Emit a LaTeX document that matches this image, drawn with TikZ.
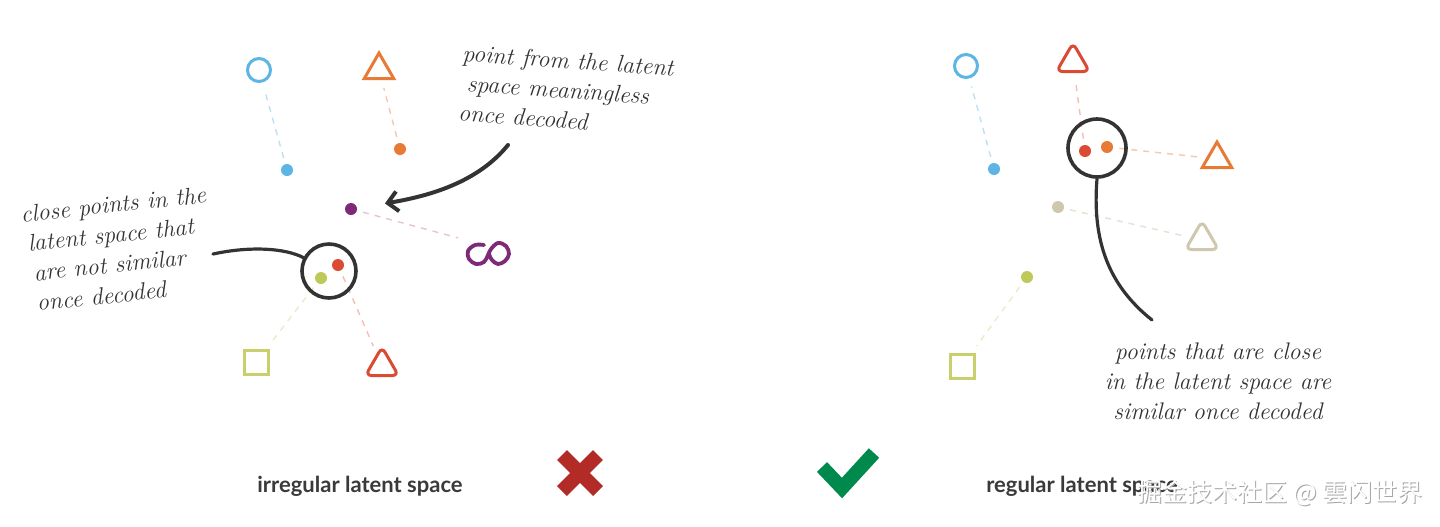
\documentclass[tikz,border=0pt]{standalone}
\usepackage{fontspec}
\setsansfont{Lato}
\newfontfamily\cjkfont{Noto Sans CJK SC}
\usetikzlibrary{shapes.geometric,arrows.meta}

\definecolor{ink}{HTML}{333333}
\definecolor{capgray}{HTML}{3A3A3A}
\definecolor{skyblue}{HTML}{5DB5E5}
\definecolor{tangerine}{HTML}{E77A35}
\definecolor{tomato}{HTML}{DB4A33}
\definecolor{plum}{HTML}{7F2A79}
\definecolor{olive}{HTML}{C9CF6A}
\definecolor{lime}{HTML}{BFC95A}
\definecolor{sand}{HTML}{CFC7AE}
\definecolor{blueDash}{HTML}{BFE0F2}
\definecolor{orangeDash}{HTML}{F4C8AE}
\definecolor{redDash}{HTML}{F3BFB7}
\definecolor{plumDash}{HTML}{E6C3DC}
\definecolor{limeDash}{HTML}{E9ECC6}
\definecolor{sandDash}{HTML}{E6E1D3}
\definecolor{crossred}{HTML}{B22B27}
\definecolor{checkgreen}{HTML}{00894D}

\begin{document}
\begin{tikzpicture}[x=0.5pt,y=-0.5pt,
    dot/.style={circle, fill=#1, inner sep=0pt, minimum size=6pt},
    ring/.style={circle, draw=#1, line width=1.5pt, inner sep=0pt, minimum size=11.5pt},
    tri/.style={regular polygon, regular polygon sides=3, draw=#1, line width=1.5pt, inner sep=0pt, minimum size=17pt},
    rtri/.style={tri=#1, rounded corners=3pt, minimum size=19pt},
    sq/.style={rectangle, draw=#1, line width=1.5pt, inner sep=0pt, minimum size=12pt},
    link/.style={draw=#1, line width=0.7pt, dash pattern=on 3pt off 3pt, shorten <=3pt, shorten >=4pt},
    group/.style={circle, draw=ink, line width=1.8pt, inner sep=0pt, minimum size=27pt},
    pointer/.style={draw=ink, line width=1.6pt, line cap=round},
    note/.style={font=\fontsize{12}{15}\selectfont\itshape, text=ink, inner sep=0pt},
    caption/.style={font=\sffamily\bfseries\fontsize{11}{13}\selectfont, text=capgray}
]
\fill[white] (0,0) rectangle (1440,526);
\useasboundingbox (0,0) rectangle (1440,526);

% irregular latent space
\node[ring=skyblue] (lcirc) at (259,70) {};
\node[tri=tangerine] (ltrio) at (379,70) {};
\node[sq=olive] (lsq) at (256,362) {};
\node[rtri=tomato] (ltrir) at (382,366) {};
\coordinate (lknot) at (466,240);

\node[dot=skyblue] (ldotb) at (287,170) {};
\node[dot=tangerine] (ldoto) at (400,149) {};
\node[dot=plum] (ldotp) at (351,209) {};
\node[dot=tomato] (ldotr) at (338,265) {};
\node[dot=lime] (ldotg) at (321,278) {};

\draw[link=blueDash] (ldotb) -- (lcirc);
\draw[link=orangeDash] (ldoto) -- (ltrio);
\draw[link=plumDash] (ldotp) -- (lknot);
\draw[link=redDash] (ldotr) -- (ltrir);
\draw[link=limeDash] (ldotg) -- (lsq);

\draw[plum, line width=1.9pt, line cap=round, line join=round]
  plot[smooth, tension=0.6] coordinates {(484,245) (475,245) (468,251) (469,259) (476,264) (484,262)
    (488,255) (491,249) (498,243) (506,246) (509,254) (505,261) (498,264) (492,260) (489,254)};

\node[group] (lring) at (329,271) {};
\coordinate (ltail) at (213,254);
\draw[pointer] (ltail) .. controls (250,246) and (285,248) .. (lring);

\coordinate (arrtail) at (508,145);
\draw[pointer, line width=2pt, shorten >=14pt, -{Straight Barb[length=5pt,width=10pt]}]
  (arrtail) .. controls (478,182) and (430,196) .. (ldotp);

\node[note, rotate=6, align=left] (lnote) at (118,249)
  {close points in the\\ \,latent space that\\ \;are not similar\\ \;once decoded};
\node[note, rotate=-4, align=left] (tnote) at (566,90)
  {point from the latent\\ \;space meaningless\\ once decoded};

% regular latent space
\node[ring=skyblue] (rcirc) at (966,66) {};
\node[rtri=tomato] (rtrir) at (1073,62) {};
\node[tri=tangerine] (rtrio) at (1217,159) {};
\node[rtri=sand] (rtrit) at (1202,240) {};
\node[sq=olive] (rsq) at (962,366) {};

\node[dot=skyblue] (rdotb) at (994,169) {};
\node[dot=tomato] (rdotr) at (1085,151) {};
\node[dot=tangerine] (rdoto) at (1107,147) {};
\node[dot=sand] (rdott) at (1058,207) {};
\node[dot=lime] (rdotg) at (1027,277) {};

\draw[link=blueDash] (rdotb) -- (rcirc);
\draw[link=redDash] (rdotr) -- (rtrir);
\draw[link=orangeDash] (rdoto) -- (rtrio);
\draw[link=sandDash] (rdott) -- (rtrit);
\draw[link=limeDash] (rdotg) -- (rsq);

\node[group, minimum size=29pt] (rring) at (1097,148) {};
\coordinate (rtail) at (1152,320);
\draw[pointer] (rring.south) .. controls (1092,240) and (1108,285) .. (rtail);

\node[note, align=center] (rnote) at (1218,381)
  {points that are close\\ in the latent space are\\ similar once decoded};

% captions and marks
\node[caption] (lcap) at (360,486) {irregular latent space};
\node[caption] (rcap) at (1082,486) {regular latent space};

\draw[crossred, line width=7pt] (562,455) -- (598,491) (562,491) -- (598,455);
\draw[checkgreen, line width=7pt, miter limit=10] (822,467) -- (842,488) -- (874,453);

\node[font=\cjkfont\fontsize{12.5}{14}\selectfont, text=gray!70] (wmshadow) at (1281,494) {掘金技术社区 @ 雲闪世界};
\node[font=\cjkfont\fontsize{12.5}{14}\selectfont, text=white] (wm) at (1280,493) {掘金技术社区 @ 雲闪世界};
\end{tikzpicture}
\end{document}
